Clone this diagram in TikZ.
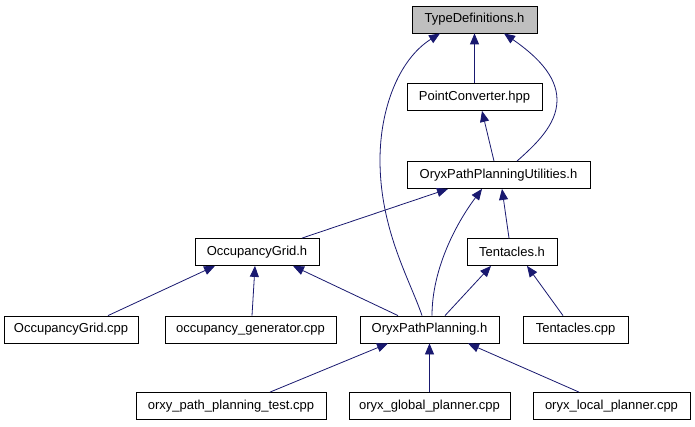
\documentclass[tikz,border=0pt]{standalone}
\usepackage{fontspec}
\setmainfont{Liberation Sans}
\usepackage{xcolor}
\usetikzlibrary{arrows.meta}
\definecolor{edgeblue}{RGB}{25,25,112}
\definecolor{rootgray}{RGB}{191,191,191}

\tikzset{
    filebox/.style={draw=black, line width=0.8pt, fill=white, minimum height=27pt,
        inner sep=0pt, font=\fontsize{13}{15}\selectfont},
    dep/.style={draw=edgeblue, line width=0.8pt, <-,
        >={Triangle[length=11pt, width=9pt, fill=edgeblue]}}
}

\begin{document}
\begin{tikzpicture}[x=1pt, y=-1pt]
    \useasboundingbox[fill=white] (0,0) rectangle (695,427);

    % Files
    \node[filebox, fill=rootgray, minimum width=125pt] (typedefs) at (474.5,19.5) {TypeDefinitions.h};
    \node[filebox, minimum width=135pt] (pconv) at (474.5,97) {PointConverter.hpp};
    \node[filebox, minimum width=183pt] (utils) at (498.5,175) {OryxPathPlanningUtilities.h};
    \node[filebox, minimum width=124pt] (occgrid) at (257,252) {OccupancyGrid.h};
    \node[filebox, minimum width=90pt] (tent) at (512,252) {Tentacles.h};
    \node[filebox, minimum width=134pt] (occgridcpp) at (71,329.5) {OccupancyGrid.cpp};
    \node[filebox, minimum width=171pt] (occgen) at (250.5,329.5) {occupancy\_generator.cpp};
    \node[filebox, minimum width=139pt] (opp) at (429.5,329.5) {OryxPathPlanning.h};
    \node[filebox, minimum width=105pt] (tentcpp) at (575.5,329.5) {Tentacles.cpp};
    \node[filebox, minimum width=190pt] (ptest) at (231,406) {orxy\_path\_planning\_test.cpp};
    \node[filebox, minimum width=161pt] (gplanner) at (429.5,406) {oryx\_global\_planner.cpp};
    \node[filebox, minimum width=157pt] (lplanner) at (611.5,406) {oryx\_local\_planner.cpp};

    % Includes of TypeDefinitions.h
    \draw[dep] (typedefs.south) -- (pconv.north);
    \draw[dep] ([xshift=29.5pt]typedefs.south) .. controls (535,55) and (557,75) .. (557,100)
        .. controls (557,125) and (535,145) .. ([xshift=18.5pt]utils.north);
    \draw[dep] ([xshift=-34.5pt]typedefs.south) .. controls (398,60) and (380,110) .. (380,160)
        .. controls (380,230) and (410,280) .. ([xshift=-7.5pt]opp.north);

    % Includes of PointConverter.hpp and OryxPathPlanningUtilities.h
    \draw[dep] ([xshift=7.5pt]pconv.south) -- ([xshift=-4.5pt]utils.north);
    \draw[dep] ([xshift=-50.5pt]utils.south) -- ([xshift=45pt]occgrid.north);
    \draw[dep] ([xshift=3.5pt]utils.south) -- ([xshift=-3pt]tent.north);
    \draw[dep] ([xshift=-16.5pt]utils.south) .. controls (455,225) and (432,270) .. ([xshift=2.5pt]opp.north);

    % Includes of OccupancyGrid.h and Tentacles.h
    \draw[dep] ([xshift=-42pt]occgrid.south) -- ([xshift=37pt]occgridcpp.north);
    \draw[dep] ([xshift=-2pt]occgrid.south) -- ([xshift=1.5pt]occgen.north);
    \draw[dep] ([xshift=36pt]occgrid.south) -- ([xshift=-31.5pt]opp.north);
    \draw[dep] ([xshift=-21pt]tent.south) -- ([xshift=15.5pt]opp.north);
    \draw[dep] ([xshift=15pt]tent.south) -- ([xshift=-12.5pt]tentcpp.north);

    % Includes of OryxPathPlanning.h
    \draw[dep] ([xshift=-41.5pt]opp.south) -- ([xshift=39pt]ptest.north);
    \draw[dep] (opp.south) -- (gplanner.north);
    \draw[dep] ([xshift=38.5pt]opp.south) -- ([xshift=-32.5pt]lplanner.north);
\end{tikzpicture}
\end{document}
